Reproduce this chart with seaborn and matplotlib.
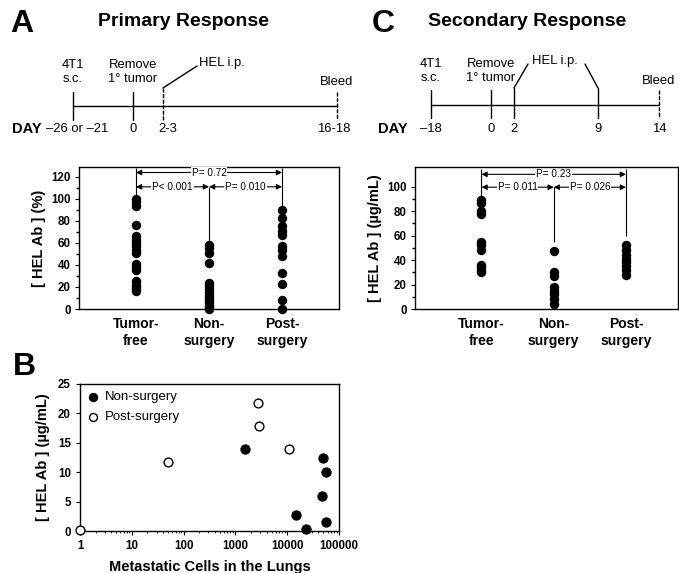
import numpy as np
import pandas as pd
import matplotlib
matplotlib.use("Agg")
import matplotlib.pyplot as plt
from matplotlib.ticker import FixedLocator, NullFormatter, LogLocator
import seaborn as sns

# ---------------- data ----------------
groups = ["Tumor-\nfree", "Non-\nsurgery", "Post-\nsurgery"]

primary_tumor_free = [100, 97, 94, 76, 66, 63, 60, 57, 54, 51, 41, 38, 35, 25, 22, 20, 18, 16]
primary_non_surgery = [58, 55, 51, 42, 24, 21, 18, 15, 12, 9, 6, 4, 2, 0]
primary_post_surgery = [90, 83, 75, 71, 67, 57, 54, 48, 33, 23, 8, 0]

secondary_tumor_free = [89, 87, 80, 78, 55, 52, 48, 36, 34, 32, 30]
secondary_non_surgery = [47, 30, 27, 18, 15, 12, 8, 4]
secondary_post_surgery = [52, 48, 44, 41, 38, 35, 32, 28]

primary_p = ["P< 0.001", "P= 0.010", "P= 0.72"]
secondary_p = ["P= 0.011", "P= 0.026", "P= 0.23"]

mets_non_surgery = [1500, 14500, 23500, 50000, 55000, 48000, 57000]
ab_non_surgery = [14.0, 2.7, 0.3, 12.5, 10.1, 6.0, 1.5]
mets_post_surgery = [1, 50, 2750, 2800, 10700]
ab_post_surgery = [0.2, 11.7, 21.8, 17.8, 13.9]

primary_events = ["4T1\ns.c.", "Remove\n1\u00b0 tumor", "HEL i.p.", "Bleed"]
primary_days = ["\u201326 or \u201321", "0", "2-3", "16-18"]
secondary_events = ["4T1\ns.c.", "Remove\n1\u00b0 tumor", "HEL i.p.", "Bleed"]
secondary_days = ["\u201318", "0", "2", "9", "14"]

# ---------------- style ----------------
sns.set_theme(style="ticks")
plt.rcParams["font.family"] = ["Liberation Sans", "DejaVu Sans"]
for k in ["text.color", "axes.labelcolor", "xtick.color", "ytick.color", "axes.edgecolor"]:
    plt.rcParams[k] = "black"
plt.rcParams["axes.linewidth"] = 1.0
plt.rcParams["xtick.major.width"] = 0.8
plt.rcParams["ytick.major.width"] = 0.8

W, H = 679, 573
fig = plt.figure(figsize=(W / 100, H / 100), dpi=100)


def rect(l, t, r, b):
    return [l / W, 1 - b / H, (r - l) / W, (b - t) / H]


# overlay for titles and timelines (pixel coordinates)
ov = fig.add_axes([0, 0, 1, 1])
ov.set_xlim(0, W)
ov.set_ylim(H, 0)
ov.axis("off")

ov.text(22, 24, "A", fontsize=23, fontweight="bold", ha="center", va="center")
ov.text(183, 22, "Primary Response", fontsize=14, fontweight="bold", ha="center", va="center")
ov.text(383, 24, "C", fontsize=23, fontweight="bold", ha="center", va="center")
ov.text(527, 22, "Secondary Response", fontsize=14, fontweight="bold", ha="center", va="center")
ov.text(24, 367, "B", fontsize=23, fontweight="bold", ha="center", va="center")

tfs = 9.4
# --- timeline A ---
ya = 106
tick_a = [73, 133, 163, 337]
ov.plot([tick_a[0], tick_a[-1]], [ya, ya], color="black", lw=1.0)
ov.plot([tick_a[0]] * 2, [92, 120], color="black", lw=1.0)
ov.plot([tick_a[1]] * 2, [92, 120], color="black", lw=1.0)
ov.plot([tick_a[2]] * 2, [88, 120], color="black", lw=1.0, ls=(0, (3, 1)))
ov.plot([tick_a[3]] * 2, [92, 120], color="black", lw=1.0, ls=(0, (3, 1)))
ov.plot([163, 197], [88, 66], color="black", lw=1.0)
ov.text(tick_a[0], 72, primary_events[0], fontsize=tfs, ha="center", va="center", linespacing=1.3)
ov.text(tick_a[1], 72, primary_events[1], fontsize=tfs, ha="center", va="center", linespacing=1.3)
ov.text(199, 63, primary_events[2], fontsize=tfs, ha="left", va="center")
ov.text(tick_a[3], 82, primary_events[3], fontsize=tfs, ha="center", va="center")
ov.text(12, 129, "DAY", fontsize=10.5, fontweight="bold", ha="left", va="center")
ov.text(77, 129, primary_days[0], fontsize=tfs, ha="center", va="center")
ov.text(133, 129, primary_days[1], fontsize=tfs, ha="center", va="center")
ov.text(168, 129, primary_days[2], fontsize=tfs, ha="center", va="center")
ov.text(334, 129, primary_days[3], fontsize=tfs, ha="center", va="center")

# --- timeline C ---
yc = 105
tick_c = [431, 491, 514, 598, 659]
ov.plot([tick_c[0], tick_c[-1]], [yc, yc], color="black", lw=1.0)
for x in tick_c[:4]:
    ov.plot([x, x], [90 if x not in (514, 598) else 88, 118], color="black", lw=1.0)
ov.plot([tick_c[4]] * 2, [90, 118], color="black", lw=1.0, ls=(0, (3, 1)))
ov.plot([514, 528], [88, 64], color="black", lw=1.0)
ov.plot([598, 585], [88, 64], color="black", lw=1.0)
ov.text(tick_c[0], 71, secondary_events[0], fontsize=tfs, ha="center", va="center", linespacing=1.3)
ov.text(tick_c[1], 71, secondary_events[1], fontsize=tfs, ha="center", va="center", linespacing=1.3)
ov.text(555, 61, secondary_events[2], fontsize=tfs, ha="center", va="center")
ov.text(tick_c[4], 81, secondary_events[3], fontsize=tfs, ha="center", va="center")
ov.text(378, 129, "DAY", fontsize=10.5, fontweight="bold", ha="left", va="center")
for x, lab in zip(tick_c, secondary_days):
    ov.text(x, 129, lab, fontsize=tfs, ha="center", va="center")


def strip_panel(ax, vals, ylim, yticks, ylabel, pvals, ybr_top, ybr_low, vtops):
    df = pd.DataFrame({
        "group": sum([[g] * len(v) for g, v in zip(groups, vals)], []),
        "value": sum([list(v) for v in vals], []),
    })
    sns.stripplot(data=df, x="group", y="value", order=groups, jitter=False,
                  color="black", size=6.8, linewidth=0, ax=ax, clip_on=False, zorder=3)
    ax.set_ylim(*ylim)
    ax.set_xlim(-0.78, 2.78)
    ax.set_yticks(yticks)
    ax.yaxis.set_minor_locator(FixedLocator([t + (yticks[1] - yticks[0]) / 2 for t in yticks[:-1]]))
    ax.tick_params(axis="y", which="major", length=3, labelsize=8.3, pad=3)
    ax.tick_params(axis="y", which="minor", length=2)
    ax.tick_params(axis="x", length=0, labelsize=10, pad=6)
    for lab in ax.get_xticklabels() + ax.get_yticklabels():
        lab.set_fontweight("bold")
    ax.set_xlabel("")
    ax.set_ylabel(ylabel, fontsize=10.5, fontweight="bold", labelpad=4)
    for s in ax.spines.values():
        s.set_visible(True)
        s.set_linewidth(1.0)
    # vertical guide lines
    ax.vlines(0, vtops[0], ybr_top + 4, color="black", lw=0.8)
    ax.vlines(1, vtops[1], ybr_low, color="black", lw=0.8)
    ax.vlines(2, vtops[2], ybr_top + 4, color="black", lw=0.8)
    ap = dict(arrowstyle="<|-|>", color="black", lw=0.8, shrinkA=0, shrinkB=0, mutation_scale=8)
    for (x0, x1, y, lab) in [(0, 1, ybr_low, pvals[0]), (1, 2, ybr_low, pvals[1]), (0, 2, ybr_top, pvals[2])]:
        ax.annotate("", xy=(x0, y), xytext=(x1, y), arrowprops=ap)
        ax.text((x0 + x1) / 2, y, lab, fontsize=7.2, ha="center", va="center",
                bbox=dict(facecolor="white", edgecolor="none", pad=0.6))


axA = fig.add_axes(rect(79, 167, 339, 309))
strip_panel(axA, [primary_tumor_free, primary_non_surgery, primary_post_surgery],
            (0, 129), [0, 20, 40, 60, 80, 100, 120], "[ HEL Ab ] (%)",
            primary_p, 124, 111, [103, 61, 93])

axC = fig.add_axes(rect(415, 167, 678, 309))
strip_panel(axC, [secondary_tumor_free, secondary_non_surgery, secondary_post_surgery],
            (0, 116), [0, 20, 40, 60, 80, 100], "[ HEL Ab ] (\u00b5g/mL)",
            secondary_p, 110, 99.5, [92, 55, 60])
axC.set_xlim(-0.92, 2.72)

# ---------------- panel B ----------------
axB = fig.add_axes(rect(80, 384, 339, 531))
dfB = pd.DataFrame({
    "cells": mets_non_surgery + mets_post_surgery,
    "ab": ab_non_surgery + ab_post_surgery,
    "group": ["Non-surgery"] * len(mets_non_surgery) + ["Post-surgery"] * len(mets_post_surgery),
})
sns.scatterplot(data=dfB[dfB.group == "Non-surgery"], x="cells", y="ab", ax=axB,
                color="black", edgecolor="black", s=44, marker="o", linewidth=0.8,
                label="Non-surgery", clip_on=False, zorder=3)
sns.scatterplot(data=dfB[dfB.group == "Post-surgery"], x="cells", y="ab", ax=axB,
                facecolor="white", edgecolor="black", s=40, marker="o", linewidth=1.0,
                label="Post-surgery", clip_on=False, zorder=3)
axB.set_xscale("log")
axB.set_xlim(1, 1e5)
axB.set_ylim(0, 25)
axB.set_xticks([1, 10, 100, 1000, 10000, 100000])
axB.set_xticklabels(["1", "10", "100", "1000", "10000", "100000"])
axB.xaxis.set_minor_locator(LogLocator(base=10, subs=np.arange(2, 10), numticks=20))
axB.xaxis.set_minor_formatter(NullFormatter())
axB.set_yticks([0, 5, 10, 15, 20, 25])
axB.tick_params(axis="both", which="major", length=3, labelsize=8.3)
axB.tick_params(axis="x", which="minor", length=1.5, width=0.6)
for lab in axB.get_xticklabels() + axB.get_yticklabels():
    lab.set_fontweight("bold")
for s in axB.spines.values():
    s.set_visible(True)
    s.set_linewidth(1.0)
axB.set_xlabel("Metastatic Cells in the Lungs", fontsize=10.5, fontweight="bold", labelpad=6)
axB.set_ylabel("[ HEL Ab ] (\u00b5g/mL)", fontsize=10.5, fontweight="bold", labelpad=6)
leg = axB.legend(loc="upper left", frameon=False, fontsize=9.5, handlelength=0.8,
                 handletextpad=0.5, borderaxespad=0.35, borderpad=0.2,
                 labelspacing=0.55, markerscale=0.9)

fig.savefig("out.png", dpi=100)
